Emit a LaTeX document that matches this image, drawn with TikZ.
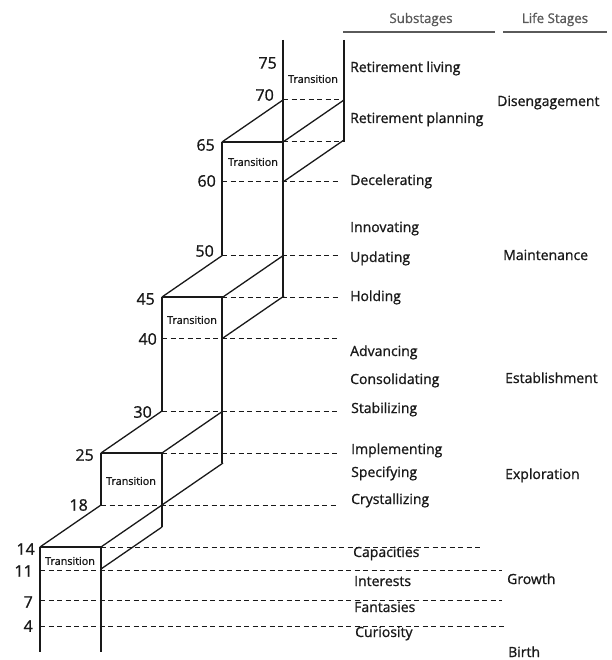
\documentclass[tikz,border=0pt]{standalone}
\usepackage{fontspec}
\setmainfont{Open Sans}[FakeBold=1.1]
\usepackage{tikz}
\usetikzlibrary{positioning}
\definecolor{stInk}{RGB}{25, 25, 25}
\definecolor{stGray}{RGB}{90, 90, 90}
\tikzset{
    base/.style={
        font=\fontsize{14}{16}\selectfont,
        text=stInk,
        inner sep=0pt
    },
    age/.style={
        base,
        font=\fontsize{16}{18}\selectfont,
        anchor=east
    },
    substage/.style={
        base,
        anchor=base west
    },
    lifestage/.style={
        base,
        anchor=base west
    },
    header/.style={
        base,
        font=\fontsize{13.3}{15}\selectfont,
        text=stGray,
        anchor=base
    },
    trans/.style={
        base,
        font=\fontsize{10.8}{12}\selectfont
    },
    edge/.style={
        line width=1.3pt,
        draw=stInk
    },
    level/.style={
        line width=1pt,
        draw=stInk,
        dash pattern=on 5pt off 3.5pt
    },
    rule/.style={
        line width=1.3pt,
        draw=stGray
    }
}

\begin{document}
\begin{tikzpicture}[x=1pt, y=-1pt]
    \useasboundingbox (0,0) rectangle (611,660);

    % Column headers
    \node[header] (subhead) at (421,23) {Substages};
    \node[header] (lifehead) at (555,23) {Life Stages};
    \draw[rule] (343,32) -- (495,32);
    \draw[rule] (503,32) -- (607,32);

    % Uprights of the staircase
    \draw[edge] (40,547) -- (40,652);
    \draw[edge] (101,547) -- (101,652);
    \draw[edge] (101,453) -- (101,505);
    \draw[edge] (162,297) -- (162,411);
    \draw[edge] (162,453) -- (162,527);
    \draw[edge] (222,142) -- (222,255);
    \draw[edge] (222,297) -- (222,463);
    \draw[edge] (283,40) -- (283,297);
    \draw[edge] (344,40) -- (344,142);

    % Transition boxes: front top edge, top face and side face
    \foreach \xa/\ya/\yb in {40/547/569, 101/453/505, 162/297/338, 222/142/182} {
        \draw[edge] (\xa,\ya) -- ++(61,0);
        \draw[edge] (\xa,\ya) -- ++(61,-42);
        \draw[edge] (\xa+61,\ya) -- ++(61,-42);
        \draw[edge] (\xa+61,\yb) -- ++(61,-42);
    }

    % Age levels
    \foreach \y/\xa/\xb in {100/283/344, 142/283/344, 182/222/338,
                            255/222/338, 297/222/338, 338/162/338,
                            411/162/338, 453/162/338, 505/101/338,
                            547/101/482, 570/40/502, 600/40/502, 626/40/506}
        \draw[level] (\xa,\y) -- (\xb,\y);

    % Ages
    \node[age] (a75) at (277,63) {75};
    \node[age] (a70) at (274,95) {70};
    \node[age] (a65) at (215,145) {65};
    \node[age] (a60) at (216,181) {60};
    \node[age] (a50) at (214,251) {50};
    \node[age] (a45) at (155,299) {45};
    \node[age] (a40) at (157,339) {40};
    \node[age] (a30) at (152,412) {30};
    \node[age] (a25) at (94,455) {25};
    \node[age] (a18) at (88,505) {18};
    \node[age] (a14) at (35,549) {14};
    \node[age] (a11) at (33,571) {11};
    \node[age] (a7) at (33,602) {7};
    \node[age] (a4) at (33,626) {4};

    % Transition labels
    \node[trans] (t1) at (70,561) {Transition};
    \node[trans] (t2) at (131,481) {Transition};
    \node[trans] (t3) at (192,320) {Transition};
    \node[trans] (t4) at (253,162) {Transition};
    \node[trans] (t5) at (313,79) {Transition};

    % Substages
    \node[substage] (s1) at (350,72) {Retirement living};
    \node[substage] (s2) at (350,123) {Retirement planning};
    \node[substage] (s3) at (350,185) {Decelerating};
    \node[substage] (s4) at (350,232) {Innovating};
    \node[substage] (s5) at (350,262) {Updating};
    \node[substage] (s6) at (350,301) {Holding};
    \node[substage] (s7) at (350,356) {Advancing};
    \node[substage] (s8) at (350,384) {Consolidating};
    \node[substage] (s9) at (351,413) {Stabilizing};
    \node[substage] (s10) at (351,454) {Implementing};
    \node[substage] (s11) at (351,477) {Specifying};
    \node[substage] (s12) at (351,504) {Crystallizing};
    \node[substage] (s13) at (353,557) {Capacities};
    \node[substage] (s14) at (354,586) {Interests};
    \node[substage] (s15) at (354,612) {Fantasies};
    \node[substage] (s16) at (355,637) {Curiosity};

    % Life stages
    \node[lifestage] (l1) at (497,106) {Disengagement};
    \node[lifestage] (l2) at (503,260) {Maintenance};
    \node[lifestage] (l3) at (505,383) {Establishment};
    \node[lifestage] (l4) at (505,479) {Exploration};
    \node[lifestage] (l5) at (507,584) {Growth};
    \node[lifestage] (l6) at (508,657) {Birth};

\end{tikzpicture}
\end{document}
